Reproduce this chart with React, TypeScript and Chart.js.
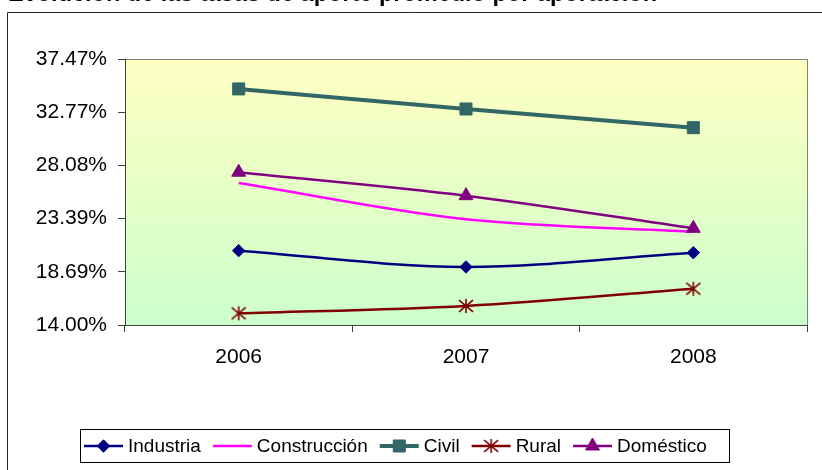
import React, { useEffect, useRef } from 'react';
import { Chart, registerables } from 'chart.js';
import { drawPoint } from 'chart.js/helpers';

Chart.register(...registerables);

const titleText = 'Evolución de las tasas de aporte promedio por aportación';
const categories = ['2006', '2007', '2008'];
const seriesNames = ['Industria', 'Construcción', 'Civil', 'Rural', 'Doméstico'];
const industria = [20.56, 19.12, 20.38];
const construccion = [26.53, 23.33, 22.24];
const civil = [34.83, 33.06, 31.41];
const rural = [15.03, 15.68, 17.2];
const domestico = [27.48, 25.41, 22.53];
const yTicks = [14.0, 18.69, 23.39, 28.08, 32.77, 37.47];

const FONT = '"Liberation Sans", Arial, Helvetica, sans-serif';

function makeAsterisk(color: string): HTMLCanvasElement {
  const size = 16;
  const c = document.createElement('canvas');
  c.width = size;
  c.height = size;
  const g = c.getContext('2d')!;
  g.strokeStyle = color;
  g.lineWidth = 1.6;
  const m = size / 2;
  const r = 7;
  g.beginPath();
  g.moveTo(m, m - r);
  g.lineTo(m, m + r);
  g.moveTo(m - r, m - r * 0.85);
  g.lineTo(m + r, m + r * 0.85);
  g.moveTo(m - r, m + r * 0.85);
  g.lineTo(m + r, m - r * 0.85);
  g.stroke();
  return c;
}

export default function App() {
  const ref = useRef<HTMLCanvasElement | null>(null);

  useEffect(() => {
    const canvas = ref.current;
    if (!canvas) return;
    const star = makeAsterisk('#800000');

    const styles = [
      { color: '#000080', width: 2.5, pointStyle: 'rectRot' as any, radius: 6.2 },
      { color: '#FF00FF', width: 2.5, pointStyle: false as any, radius: 0 },
      { color: '#336666', width: 4, pointStyle: 'rect' as any, radius: 8.5 },
      { color: '#800000', width: 2.5, pointStyle: star as any, radius: 7 },
      { color: '#800080', width: 2.5, pointStyle: 'triangle' as any, radius: 8 },
    ];
    const values = [industria, construccion, civil, rural, domestico];

    const datasets = seriesNames.map((name, i) => ({
      label: name,
      data: values[i],
      borderColor: styles[i].color,
      backgroundColor: styles[i].color,
      borderWidth: styles[i].width,
      pointStyle: styles[i].pointStyle,
      pointRadius: styles[i].radius,
      pointHoverRadius: styles[i].radius,
      pointBorderWidth: 1,
      pointBackgroundColor: styles[i].color,
      pointBorderColor: styles[i].color,
      cubicInterpolationMode: 'monotone' as const,
      fill: false,
      order: -i,
    }));

    const framePlugin = {
      id: 'frame',
      beforeDraw(chart: any) {
        const { ctx, chartArea } = chart;
        const { left, top, right, bottom } = chartArea;
        ctx.save();
        const grad = ctx.createLinearGradient(0, top, 0, bottom);
        grad.addColorStop(0, '#FFFFC2');
        grad.addColorStop(1, '#CCFFCC');
        ctx.fillStyle = grad;
        ctx.fillRect(left, top, right - left, bottom - top);
        ctx.strokeStyle = '#808080';
        ctx.lineWidth = 1;
        ctx.beginPath();
        ctx.moveTo(left, top + 0.5);
        ctx.lineTo(right + 0.5, top + 0.5);
        ctx.lineTo(right + 0.5, bottom);
        ctx.stroke();
        ctx.strokeStyle = '#222';
        ctx.beginPath();
        ctx.moveTo(7.5, chart.height);
        ctx.lineTo(7.5, 12.5);
        ctx.lineTo(chart.width, 12.5);
        ctx.stroke();
        ctx.fillStyle = '#000';
        ctx.font = 'bold 23.5px ' + FONT;
        ctx.textBaseline = 'alphabetic';
        ctx.textAlign = 'left';
        ctx.fillText(titleText, 8, 0.6);
        ctx.restore();
      },
      afterDraw(chart: any) {
        const ctx = chart.ctx;
        ctx.save();
        const boxL = 80, boxT = 429, boxR = 729, boxB = 462;
        ctx.fillStyle = '#fff';
        ctx.fillRect(boxL, boxT, boxR - boxL, boxB - boxT);
        ctx.strokeStyle = '#000';
        ctx.lineWidth = 1;
        ctx.strokeRect(boxL + 0.5, boxT + 0.5, boxR - boxL, boxB - boxT);
        ctx.font = '19px ' + FONT;
        ctx.textBaseline = 'middle';
        ctx.textAlign = 'left';
        const cy = 446;
        let x = 84;
        chart.data.datasets.forEach((ds: any, i: number) => {
          const st = styles[i];
          ctx.strokeStyle = st.color;
          ctx.lineWidth = st.width;
          ctx.beginPath();
          ctx.moveTo(x, cy);
          ctx.lineTo(x + 39, cy);
          ctx.stroke();
          if (st.pointStyle) {
            ctx.fillStyle = st.color;
            ctx.strokeStyle = st.color;
            ctx.lineWidth = 1;
            drawPoint(ctx, { pointStyle: st.pointStyle, radius: st.radius, borderWidth: 1, rotation: 0 } as any, x + 19.5, cy);
          }
          ctx.fillStyle = '#000';
          ctx.fillText(ds.label, x + 44, cy + 1);
          x += 44 + ctx.measureText(ds.label).width + 12;
        });
        ctx.restore();
      },
    };

    const chart = new Chart(canvas, {
      type: 'line',
      data: { labels: categories, datasets },
      options: {
        responsive: false,
        animation: false,
        devicePixelRatio: 1,
        layout: { padding: { left: 0, top: 59, right: 15, bottom: 0 } },
        plugins: {
          legend: { display: false },
          title: { display: false },
          tooltip: { enabled: false },
        },
        scales: {
          x: {
            type: 'category',
            offset: true,
            grid: {
              display: true,
              offset: true,
              drawOnChartArea: false,
              drawTicks: true,
              tickLength: 7,
              color: '#404040',
              lineWidth: 1,
            },
            border: { display: true, color: '#404040', width: 1 },
            ticks: {
              color: '#000',
              font: { family: FONT, size: 21 },
              padding: 13,
              maxRotation: 0,
              autoSkip: false,
            },
            afterFit: (s: any) => {
              s.height = 145;
            },
          },
          y: {
            min: 14,
            max: 37.47,
            afterBuildTicks: (s: any) => {
              s.ticks = yTicks.map((v) => ({ value: v }));
            },
            grid: {
              display: true,
              drawOnChartArea: false,
              drawTicks: true,
              tickLength: 7,
              color: '#404040',
              lineWidth: 1,
            },
            border: { display: true, color: '#404040', width: 1 },
            ticks: {
              color: '#000',
              font: { family: FONT, size: 21 },
              padding: 11,
              callback: (v: any) => Number(v).toFixed(2) + '%',
            },
            afterFit: (s: any) => {
              s.width = 125;
            },
          },
        },
      },
      plugins: [framePlugin],
    } as any);

    return () => {
      chart.destroy();
    };
  }, []);

  return (
    <div style={{ position: 'fixed', left: 0, top: 0, width: 822, height: 470, background: '#fff' }}>
      <canvas ref={ref} width={822} height={470} style={{ display: 'block', width: 822, height: 470 }} />
    </div>
  );
}
